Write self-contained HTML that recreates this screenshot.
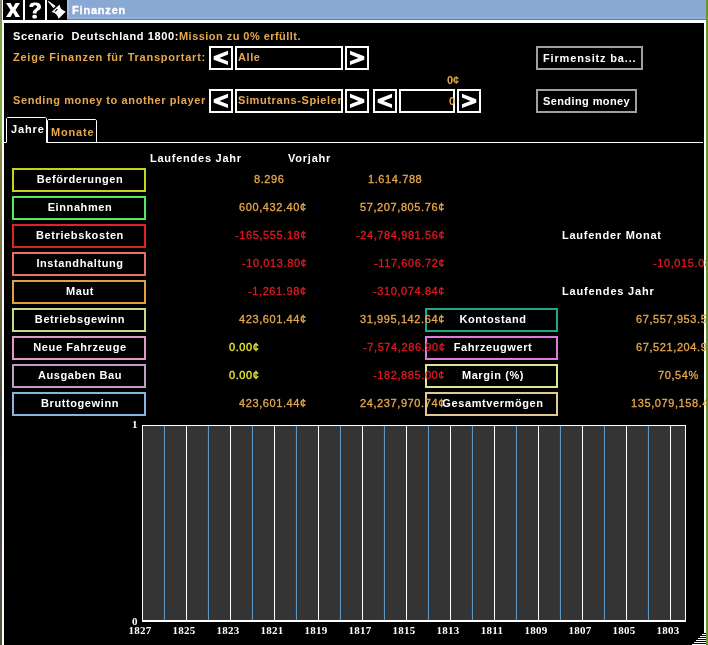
<!DOCTYPE html>
<html><head><meta charset="utf-8"><style>
html,body{margin:0;padding:0;width:708px;height:645px;overflow:hidden;background:#000;}
.a{position:absolute;}
.t{position:absolute;white-space:pre;line-height:11px;will-change:transform;font-family:"Liberation Sans",sans-serif;}
</style></head><body>
<div class="a" style="left:0px;top:0px;width:2px;height:645px;background:linear-gradient(#8a8670 0,#8a8a68 18px,#78a840 28px,#80ac40 130px,#8a8450 150px,#6e6a48 320px,#3e4a3c 420px,#5a4a50 560px,#4a5a3a 645px);"></div>
<div class="a" style="left:706px;top:0px;width:2px;height:645px;background:#66982e;"></div>
<div class="a" style="left:2px;top:0px;width:704px;height:645px;background:#ffffff;"></div>
<div class="a" style="left:3px;top:0px;width:20px;height:20px;background:#000;"></div>
<div class="a" style="left:25px;top:0px;width:20px;height:20px;background:#000;"></div>
<div class="a" style="left:47px;top:0px;width:20px;height:20px;background:#000;"></div>
<div class="a" style="left:67px;top:0px;width:639px;height:19px;background:linear-gradient(90deg,#a4bce0 0,#a4bce0 2px,#8aa8d4 2px);"></div>
<div class="a" style="left:67px;top:17px;width:639px;height:2px;background:#90b0dc;"></div>
<div class="a" style="left:67px;top:19px;width:639px;height:1px;background:#6c7c94;"></div>
<div class="a" style="left:4px;top:23px;width:700px;height:622px;background:#000;"></div>
<svg class="a" style="left:0;top:0" width="70" height="20" viewBox="0 0 70 20">
<path d="M6,3 H10.5 L13,7.5 L15.5,3 H20 L15.5,10 L20,17 H15.5 L13,12.5 L10.5,17 H6 L10.5,10 Z" fill="#fff"/>
<path d="M29.5,6 C29.5,3.5 32,2.5 35,2.5 C38.5,2.5 41,4 41,6.8 C41,9.5 38.5,10.3 37.3,11.3 C36.6,11.9 36.6,12.6 36.6,13.5 H32.8 C32.8,11.8 33,10.6 34.6,9.4 C36,8.4 37,7.9 37,6.8 C37,5.8 36.2,5.3 35,5.3 C33.8,5.3 33.2,6 33.2,7 H29.5 Z" fill="#fff"/>
<rect x="32.3" y="14.8" width="4.6" height="3.8" rx="1.5" fill="#fff"/>
<path d="M47.6,1.2 L48.6,1.0 L55.6,6.0 L53.6,8.2 Z" fill="#fff"/>
<path d="M59.6,4.6 Q60.2,10.4 65.8,11.6 L58.6,18.8 Q57.2,13.2 51.6,12 Z" fill="#fff"/>
<path d="M55,11.6 L57.4,9.2" stroke="#000" stroke-width="1.2"/>
</svg>
<div class="t " style="top:5px;color:#ffffff;font-size:11px;font-weight:bold;letter-spacing:0.8px;font-family:'Liberation Sans',sans-serif;left:72px;-webkit-text-stroke:0.3px #ffffff;">Finanzen</div>
<div class="t " style="top:31px;color:#ffffff;font-size:11px;font-weight:bold;letter-spacing:0.6px;font-family:'Liberation Sans',sans-serif;left:13px;">Scenario&nbsp; Deutschland 1800:</div>
<div class="t " style="top:31px;color:#e6a84c;font-size:11px;font-weight:bold;letter-spacing:0.46px;font-family:'Liberation Sans',sans-serif;left:179px;">Mission zu 0% erfüllt.</div>
<div class="t " style="top:52px;color:#e6a84c;font-size:11px;font-weight:bold;letter-spacing:0.76px;font-family:'Liberation Sans',sans-serif;left:13px;">Zeige Finanzen für Transportart:</div>
<div class="t " style="top:95px;color:#e6a84c;font-size:11px;font-weight:bold;letter-spacing:0.6px;font-family:'Liberation Sans',sans-serif;left:13px;">Sending money to another player</div>
<div class="a" style="left:209px;top:46px;width:24px;height:24px;background:#000;box-shadow:inset 0 0 0 2px #fff;"></div>
<svg class="a" style="left:209px;top:46px" width="24" height="24" viewBox="0 0 24 24"><path d="M19,4.8 L4.7,10.2 L4.7,13.8 L19,19 L19,15.2 L10.5,12 L19,8.6 Z" fill="#fff"/></svg>
<div class="a" style="left:235px;top:46px;width:108px;height:24px;background:#000;box-shadow:inset 0 0 0 2px #fff;"></div>
<div class="t " style="top:52px;color:#e6a84c;font-size:11px;font-weight:bold;letter-spacing:0.6px;font-family:'Liberation Sans',sans-serif;left:238px;">Alle</div>
<div class="a" style="left:345px;top:46px;width:24px;height:24px;background:#000;box-shadow:inset 0 0 0 2px #fff;"></div>
<svg class="a" style="left:345px;top:46px" width="24" height="24" viewBox="0 0 24 24"><path d="M5,4.8 L19.3,10.2 L19.3,13.8 L5,19 L5,15.2 L13.5,12 L5,8.6 Z" fill="#fff"/></svg>
<div class="a" style="left:209px;top:89px;width:24px;height:24px;background:#000;box-shadow:inset 0 0 0 2px #fff;"></div>
<svg class="a" style="left:209px;top:89px" width="24" height="24" viewBox="0 0 24 24"><path d="M19,4.8 L4.7,10.2 L4.7,13.8 L19,19 L19,15.2 L10.5,12 L19,8.6 Z" fill="#fff"/></svg>
<div class="a" style="left:235px;top:89px;width:108px;height:24px;background:#000;box-shadow:inset 0 0 0 2px #fff;"></div>
<div class="a" style="left:237px;top:91px;width:104px;height:20px;overflow:hidden">
<div class="t " style="top:4px;color:#e6a84c;font-size:11px;font-weight:bold;letter-spacing:0.6px;font-family:'Liberation Sans',sans-serif;left:1px;">Simutrans-Spieler</div>
</div>
<div class="a" style="left:345px;top:89px;width:24px;height:24px;background:#000;box-shadow:inset 0 0 0 2px #fff;"></div>
<svg class="a" style="left:345px;top:89px" width="24" height="24" viewBox="0 0 24 24"><path d="M5,4.8 L19.3,10.2 L19.3,13.8 L5,19 L5,15.2 L13.5,12 L5,8.6 Z" fill="#fff"/></svg>
<div class="a" style="left:373px;top:89px;width:24px;height:24px;background:#000;box-shadow:inset 0 0 0 2px #fff;"></div>
<svg class="a" style="left:373px;top:89px" width="24" height="24" viewBox="0 0 24 24"><path d="M19,4.8 L4.7,10.2 L4.7,13.8 L19,19 L19,15.2 L10.5,12 L19,8.6 Z" fill="#fff"/></svg>
<div class="a" style="left:399px;top:89px;width:56px;height:24px;background:#000;box-shadow:inset 0 0 0 2px #fff;"></div>
<div class="a" style="left:457px;top:89px;width:24px;height:24px;background:#000;box-shadow:inset 0 0 0 2px #fff;"></div>
<svg class="a" style="left:457px;top:89px" width="24" height="24" viewBox="0 0 24 24"><path d="M5,4.8 L19.3,10.2 L19.3,13.8 L5,19 L5,15.2 L13.5,12 L5,8.6 Z" fill="#fff"/></svg>
<div class="t " style="top:96px;color:#e6a84c;font-size:11px;font-weight:bold;letter-spacing:0px;font-family:'Liberation Sans',sans-serif;right:253px;text-align:right;">0</div>
<div class="t " style="top:75px;color:#e6a84c;font-size:11px;font-weight:bold;letter-spacing:0px;font-family:'Liberation Sans',sans-serif;right:249px;text-align:right;">0¢</div>
<div class="a" style="left:536px;top:46px;width:107px;height:24px;background:#000;box-shadow:inset 0 0 0 2px #a0a0a0;"></div>
<div class="t " style="top:53px;color:#ffffff;font-size:11px;font-weight:bold;letter-spacing:0.84px;font-family:'Liberation Sans',sans-serif;left:543px;">Firmensitz ba...</div>
<div class="a" style="left:536px;top:89px;width:101px;height:24px;background:#000;box-shadow:inset 0 0 0 2px #a0a0a0;"></div>
<div class="t " style="top:96px;color:#ffffff;font-size:11px;font-weight:bold;letter-spacing:0.4px;font-family:'Liberation Sans',sans-serif;left:543px;">Sending money</div>
<svg class="a" style="left:0;top:110px" width="708" height="40" viewBox="0 0 708 40">
<path d="M4,32.5 H6.5 V8.5 L7.5,7.5 H45.5 L46.5,8.5 V32.5 H703" stroke="#fff" stroke-width="1" fill="none"/>
<path d="M47.5,32.5 V10.5 L48.5,9.5 H95.5 L96.5,10.5 V32.5" stroke="#fff" stroke-width="1" fill="none"/>
</svg>
<div class="t " style="top:124px;color:#ffffff;font-size:11px;font-weight:bold;letter-spacing:0.85px;font-family:'Liberation Sans',sans-serif;left:11px;">Jahre</div>
<div class="t " style="top:127px;color:#e6a84c;font-size:11px;font-weight:bold;letter-spacing:0.8px;font-family:'Liberation Sans',sans-serif;left:51px;">Monate</div>
<div class="t " style="top:153px;color:#ffffff;font-size:11px;font-weight:bold;letter-spacing:0.75px;font-family:'Liberation Sans',sans-serif;left:150px;">Laufendes Jahr</div>
<div class="t " style="top:153px;color:#ffffff;font-size:11px;font-weight:bold;letter-spacing:0.77px;font-family:'Liberation Sans',sans-serif;left:288px;">Vorjahr</div>
<div class="a" style="left:12px;top:168px;width:134px;height:24px;box-shadow:inset 0 0 0 2px #c3d21e;"></div>
<div class="t " style="top:174px;color:#ffffff;font-size:11px;font-weight:bold;letter-spacing:0.6px;font-family:'Liberation Sans',sans-serif;left:-20.5px;width:200px;text-align:center;">Beförderungen</div>
<div class="a" style="left:12px;top:196px;width:134px;height:24px;box-shadow:inset 0 0 0 2px #50eb5a;"></div>
<div class="t " style="top:202px;color:#ffffff;font-size:11px;font-weight:bold;letter-spacing:0.6px;font-family:'Liberation Sans',sans-serif;left:-20.5px;width:200px;text-align:center;">Einnahmen</div>
<div class="a" style="left:12px;top:224px;width:134px;height:24px;box-shadow:inset 0 0 0 2px #dc2420;"></div>
<div class="t " style="top:230px;color:#ffffff;font-size:11px;font-weight:bold;letter-spacing:0.6px;font-family:'Liberation Sans',sans-serif;left:-20.5px;width:200px;text-align:center;">Betriebskosten</div>
<div class="a" style="left:12px;top:252px;width:134px;height:24px;box-shadow:inset 0 0 0 2px #e4706c;"></div>
<div class="t " style="top:258px;color:#ffffff;font-size:11px;font-weight:bold;letter-spacing:0.6px;font-family:'Liberation Sans',sans-serif;left:-20.5px;width:200px;text-align:center;">Instandhaltung</div>
<div class="a" style="left:12px;top:280px;width:134px;height:24px;box-shadow:inset 0 0 0 2px #e0a03c;"></div>
<div class="t " style="top:286px;color:#ffffff;font-size:11px;font-weight:bold;letter-spacing:0.6px;font-family:'Liberation Sans',sans-serif;left:-20.5px;width:200px;text-align:center;">Maut</div>
<div class="a" style="left:12px;top:308px;width:134px;height:24px;box-shadow:inset 0 0 0 2px #c4dc88;"></div>
<div class="t " style="top:314px;color:#ffffff;font-size:11px;font-weight:bold;letter-spacing:0.6px;font-family:'Liberation Sans',sans-serif;left:-20.5px;width:200px;text-align:center;">Betriebsgewinn</div>
<div class="a" style="left:12px;top:336px;width:134px;height:24px;box-shadow:inset 0 0 0 2px #e098c4;"></div>
<div class="t " style="top:342px;color:#ffffff;font-size:11px;font-weight:bold;letter-spacing:0.6px;font-family:'Liberation Sans',sans-serif;left:-20.5px;width:200px;text-align:center;">Neue Fahrzeuge</div>
<div class="a" style="left:12px;top:364px;width:134px;height:24px;box-shadow:inset 0 0 0 2px #c09cc0;"></div>
<div class="t " style="top:370px;color:#ffffff;font-size:11px;font-weight:bold;letter-spacing:0.6px;font-family:'Liberation Sans',sans-serif;left:-20.5px;width:200px;text-align:center;">Ausgaben Bau</div>
<div class="a" style="left:12px;top:392px;width:134px;height:24px;box-shadow:inset 0 0 0 2px #88b4dc;"></div>
<div class="t " style="top:398px;color:#ffffff;font-size:11px;font-weight:bold;letter-spacing:0.6px;font-family:'Liberation Sans',sans-serif;left:-20.5px;width:200px;text-align:center;">Bruttogewinn</div>
<div class="a" style="left:425px;top:308px;width:133px;height:24px;box-shadow:inset 0 0 0 2px #20a888;"></div>
<div class="a" style="left:425px;top:336px;width:133px;height:24px;box-shadow:inset 0 0 0 2px #dc7cdc;"></div>
<div class="a" style="left:425px;top:364px;width:133px;height:24px;box-shadow:inset 0 0 0 2px #dce68c;"></div>
<div class="a" style="left:425px;top:392px;width:133px;height:24px;box-shadow:inset 0 0 0 2px #e0c890;"></div>
<div class="t " style="top:174px;color:#e6a84c;font-size:11px;font-weight:normal;letter-spacing:0.6px;font-family:'Liberation Sans',sans-serif;right:423px;text-align:right;-webkit-text-stroke:0.3px #e6a84c;">8.296</div>
<div class="t " style="top:202px;color:#e6a84c;font-size:11px;font-weight:normal;letter-spacing:0.6px;font-family:'Liberation Sans',sans-serif;right:401px;text-align:right;-webkit-text-stroke:0.3px #e6a84c;">600,432.40¢</div>
<div class="t " style="top:230px;color:#e21a22;font-size:11px;font-weight:normal;letter-spacing:0.6px;font-family:'Liberation Sans',sans-serif;right:401px;text-align:right;-webkit-text-stroke:0.3px #e21a22;">-165,555.18¢</div>
<div class="t " style="top:258px;color:#e21a22;font-size:11px;font-weight:normal;letter-spacing:0.6px;font-family:'Liberation Sans',sans-serif;right:401px;text-align:right;-webkit-text-stroke:0.3px #e21a22;">-10,013.80¢</div>
<div class="t " style="top:286px;color:#e21a22;font-size:11px;font-weight:normal;letter-spacing:0.6px;font-family:'Liberation Sans',sans-serif;right:401px;text-align:right;-webkit-text-stroke:0.3px #e21a22;">-1,261.98¢</div>
<div class="t " style="top:314px;color:#e6a84c;font-size:11px;font-weight:normal;letter-spacing:0.6px;font-family:'Liberation Sans',sans-serif;right:401px;text-align:right;-webkit-text-stroke:0.3px #e6a84c;">423,601.44¢</div>
<div class="t " style="top:342px;color:#ebeb34;font-size:11px;font-weight:normal;letter-spacing:0.6px;font-family:'Liberation Sans',sans-serif;right:448px;text-align:right;-webkit-text-stroke:0.3px #ebeb34;">0.00¢</div>
<div class="t " style="top:370px;color:#ebeb34;font-size:11px;font-weight:normal;letter-spacing:0.6px;font-family:'Liberation Sans',sans-serif;right:448px;text-align:right;-webkit-text-stroke:0.3px #ebeb34;">0.00¢</div>
<div class="t " style="top:398px;color:#e6a84c;font-size:11px;font-weight:normal;letter-spacing:0.6px;font-family:'Liberation Sans',sans-serif;right:401px;text-align:right;-webkit-text-stroke:0.3px #e6a84c;">423,601.44¢</div>
<div class="t " style="top:174px;color:#e6a84c;font-size:11px;font-weight:normal;letter-spacing:0.6px;font-family:'Liberation Sans',sans-serif;right:286px;text-align:right;-webkit-text-stroke:0.3px #e6a84c;">1.614.788</div>
<div class="t " style="top:202px;color:#e6a84c;font-size:11px;font-weight:normal;letter-spacing:0.6px;font-family:'Liberation Sans',sans-serif;right:263px;text-align:right;-webkit-text-stroke:0.3px #e6a84c;">57,207,805.76¢</div>
<div class="t " style="top:230px;color:#e21a22;font-size:11px;font-weight:normal;letter-spacing:0.6px;font-family:'Liberation Sans',sans-serif;right:263px;text-align:right;-webkit-text-stroke:0.3px #e21a22;">-24,784,981.56¢</div>
<div class="t " style="top:258px;color:#e21a22;font-size:11px;font-weight:normal;letter-spacing:0.6px;font-family:'Liberation Sans',sans-serif;right:263px;text-align:right;-webkit-text-stroke:0.3px #e21a22;">-117,606.72¢</div>
<div class="t " style="top:286px;color:#e21a22;font-size:11px;font-weight:normal;letter-spacing:0.6px;font-family:'Liberation Sans',sans-serif;right:263px;text-align:right;-webkit-text-stroke:0.3px #e21a22;">-310,074.84¢</div>
<div class="t " style="top:314px;color:#e6a84c;font-size:11px;font-weight:normal;letter-spacing:0.6px;font-family:'Liberation Sans',sans-serif;right:263px;text-align:right;-webkit-text-stroke:0.3px #e6a84c;">31,995,142.64¢</div>
<div class="t " style="top:342px;color:#e21a22;font-size:11px;font-weight:normal;letter-spacing:0.6px;font-family:'Liberation Sans',sans-serif;right:263px;text-align:right;-webkit-text-stroke:0.3px #e21a22;">-7,574,286.90¢</div>
<div class="t " style="top:370px;color:#e21a22;font-size:11px;font-weight:normal;letter-spacing:0.6px;font-family:'Liberation Sans',sans-serif;right:263px;text-align:right;-webkit-text-stroke:0.3px #e21a22;">-182,885.00¢</div>
<div class="t " style="top:398px;color:#e6a84c;font-size:11px;font-weight:normal;letter-spacing:0.6px;font-family:'Liberation Sans',sans-serif;right:263px;text-align:right;-webkit-text-stroke:0.3px #e6a84c;">24,237,970.74¢</div>
<div class="t " style="top:314px;color:#ffffff;font-size:11px;font-weight:bold;letter-spacing:0.6px;font-family:'Liberation Sans',sans-serif;left:392.5px;width:200px;text-align:center;">Kontostand</div>
<div class="t " style="top:342px;color:#ffffff;font-size:11px;font-weight:bold;letter-spacing:0.6px;font-family:'Liberation Sans',sans-serif;left:392.5px;width:200px;text-align:center;">Fahrzeugwert</div>
<div class="t " style="top:370px;color:#ffffff;font-size:11px;font-weight:bold;letter-spacing:0.6px;font-family:'Liberation Sans',sans-serif;left:392.5px;width:200px;text-align:center;">Margin (%)</div>
<div class="t " style="top:398px;color:#ffffff;font-size:11px;font-weight:bold;letter-spacing:0.6px;font-family:'Liberation Sans',sans-serif;left:392.5px;width:200px;text-align:center;">Gesamtvermögen</div>
<div class="t " style="top:230px;color:#ffffff;font-size:11px;font-weight:bold;letter-spacing:0.74px;font-family:'Liberation Sans',sans-serif;left:562px;">Laufender Monat</div>
<div class="t " style="top:286px;color:#ffffff;font-size:11px;font-weight:bold;letter-spacing:0.8px;font-family:'Liberation Sans',sans-serif;left:562px;">Laufendes Jahr</div>
<div class="a" style="left:560px;top:240px;width:146px;height:180px;overflow:hidden">
<div class="t" style="left:93px;top:18px;color:#e21a22;font-size:11px;font-weight:normal;letter-spacing:0.6px;-webkit-text-stroke:0.3px #e21a22;">-10,015.08¢</div>
<div class="t" style="left:76px;top:74px;color:#e6a84c;font-size:11px;font-weight:normal;letter-spacing:0.6px;-webkit-text-stroke:0.3px #e6a84c;">67,557,953.56¢</div>
<div class="t" style="left:76px;top:102px;color:#e6a84c;font-size:11px;font-weight:normal;letter-spacing:0.6px;-webkit-text-stroke:0.3px #e6a84c;">67,521,204.90¢</div>
<div class="t" style="left:98px;top:130px;color:#e6a84c;font-size:11px;font-weight:normal;letter-spacing:0.6px;-webkit-text-stroke:0.3px #e6a84c;">70,54%</div>
<div class="t" style="left:71px;top:158px;color:#e6a84c;font-size:11px;font-weight:normal;letter-spacing:0.6px;-webkit-text-stroke:0.3px #e6a84c;">135,079,158.46¢</div>
</div>
<div class="a" style="left:142px;top:425px;width:544px;height:197px;background:#343434;"></div>
<div class="a" style="left:164px;top:426px;width:1px;height:194px;background:#5e98c4;box-shadow:-1px 0 #28404e,1px 0 #1c3850"></div>
<div class="a" style="left:186px;top:426px;width:1px;height:194px;background:#ffffff"></div>
<div class="a" style="left:208px;top:426px;width:1px;height:194px;background:#5e98c4;box-shadow:-1px 0 #28404e,1px 0 #1c3850"></div>
<div class="a" style="left:230px;top:426px;width:1px;height:194px;background:#ffffff"></div>
<div class="a" style="left:252px;top:426px;width:1px;height:194px;background:#5e98c4;box-shadow:-1px 0 #28404e,1px 0 #1c3850"></div>
<div class="a" style="left:274px;top:426px;width:1px;height:194px;background:#ffffff"></div>
<div class="a" style="left:296px;top:426px;width:1px;height:194px;background:#5e98c4;box-shadow:-1px 0 #28404e,1px 0 #1c3850"></div>
<div class="a" style="left:318px;top:426px;width:1px;height:194px;background:#ffffff"></div>
<div class="a" style="left:340px;top:426px;width:1px;height:194px;background:#5e98c4;box-shadow:-1px 0 #28404e,1px 0 #1c3850"></div>
<div class="a" style="left:362px;top:426px;width:1px;height:194px;background:#ffffff"></div>
<div class="a" style="left:384px;top:426px;width:1px;height:194px;background:#5e98c4;box-shadow:-1px 0 #28404e,1px 0 #1c3850"></div>
<div class="a" style="left:406px;top:426px;width:1px;height:194px;background:#ffffff"></div>
<div class="a" style="left:428px;top:426px;width:1px;height:194px;background:#5e98c4;box-shadow:-1px 0 #28404e,1px 0 #1c3850"></div>
<div class="a" style="left:450px;top:426px;width:1px;height:194px;background:#ffffff"></div>
<div class="a" style="left:472px;top:426px;width:1px;height:194px;background:#5e98c4;box-shadow:-1px 0 #28404e,1px 0 #1c3850"></div>
<div class="a" style="left:494px;top:426px;width:1px;height:194px;background:#ffffff"></div>
<div class="a" style="left:516px;top:426px;width:1px;height:194px;background:#5e98c4;box-shadow:-1px 0 #28404e,1px 0 #1c3850"></div>
<div class="a" style="left:538px;top:426px;width:1px;height:194px;background:#ffffff"></div>
<div class="a" style="left:560px;top:426px;width:1px;height:194px;background:#5e98c4;box-shadow:-1px 0 #28404e,1px 0 #1c3850"></div>
<div class="a" style="left:582px;top:426px;width:1px;height:194px;background:#ffffff"></div>
<div class="a" style="left:604px;top:426px;width:1px;height:194px;background:#5e98c4;box-shadow:-1px 0 #28404e,1px 0 #1c3850"></div>
<div class="a" style="left:626px;top:426px;width:1px;height:194px;background:#ffffff"></div>
<div class="a" style="left:648px;top:426px;width:1px;height:194px;background:#5e98c4;box-shadow:-1px 0 #28404e,1px 0 #1c3850"></div>
<div class="a" style="left:670px;top:426px;width:1px;height:194px;background:#ffffff"></div>
<div class="a" style="left:142px;top:425px;width:544px;height:1px;background:#fff;"></div>
<div class="a" style="left:142px;top:425px;width:1px;height:197px;background:#fff;"></div>
<div class="a" style="left:685px;top:425px;width:1px;height:197px;background:#fff;"></div>
<div class="a" style="left:142px;top:620px;width:544px;height:2px;background:#fff;"></div>
<div class="t " style="top:419px;color:#ffffff;font-size:11px;font-weight:bold;letter-spacing:0.3px;font-family:'Liberation Serif',sans-serif;left:132px;">1</div>
<div class="t " style="top:616px;color:#ffffff;font-size:11px;font-weight:bold;letter-spacing:0.3px;font-family:'Liberation Serif',sans-serif;left:132px;">0</div>
<div class="t " style="top:625px;color:#ffffff;font-size:11px;font-weight:bold;letter-spacing:0.3px;font-family:'Liberation Serif',sans-serif;left:39.5px;width:200px;text-align:center;">1827</div>
<div class="t " style="top:625px;color:#ffffff;font-size:11px;font-weight:bold;letter-spacing:0.3px;font-family:'Liberation Serif',sans-serif;left:83.5px;width:200px;text-align:center;">1825</div>
<div class="t " style="top:625px;color:#ffffff;font-size:11px;font-weight:bold;letter-spacing:0.3px;font-family:'Liberation Serif',sans-serif;left:127.5px;width:200px;text-align:center;">1823</div>
<div class="t " style="top:625px;color:#ffffff;font-size:11px;font-weight:bold;letter-spacing:0.3px;font-family:'Liberation Serif',sans-serif;left:171.5px;width:200px;text-align:center;">1821</div>
<div class="t " style="top:625px;color:#ffffff;font-size:11px;font-weight:bold;letter-spacing:0.3px;font-family:'Liberation Serif',sans-serif;left:215.5px;width:200px;text-align:center;">1819</div>
<div class="t " style="top:625px;color:#ffffff;font-size:11px;font-weight:bold;letter-spacing:0.3px;font-family:'Liberation Serif',sans-serif;left:259.5px;width:200px;text-align:center;">1817</div>
<div class="t " style="top:625px;color:#ffffff;font-size:11px;font-weight:bold;letter-spacing:0.3px;font-family:'Liberation Serif',sans-serif;left:303.5px;width:200px;text-align:center;">1815</div>
<div class="t " style="top:625px;color:#ffffff;font-size:11px;font-weight:bold;letter-spacing:0.3px;font-family:'Liberation Serif',sans-serif;left:347.5px;width:200px;text-align:center;">1813</div>
<div class="t " style="top:625px;color:#ffffff;font-size:11px;font-weight:bold;letter-spacing:0.3px;font-family:'Liberation Serif',sans-serif;left:391.5px;width:200px;text-align:center;">1811</div>
<div class="t " style="top:625px;color:#ffffff;font-size:11px;font-weight:bold;letter-spacing:0.3px;font-family:'Liberation Serif',sans-serif;left:435.5px;width:200px;text-align:center;">1809</div>
<div class="t " style="top:625px;color:#ffffff;font-size:11px;font-weight:bold;letter-spacing:0.3px;font-family:'Liberation Serif',sans-serif;left:479.5px;width:200px;text-align:center;">1807</div>
<div class="t " style="top:625px;color:#ffffff;font-size:11px;font-weight:bold;letter-spacing:0.3px;font-family:'Liberation Serif',sans-serif;left:523.5px;width:200px;text-align:center;">1805</div>
<div class="t " style="top:625px;color:#ffffff;font-size:11px;font-weight:bold;letter-spacing:0.3px;font-family:'Liberation Serif',sans-serif;left:567.5px;width:200px;text-align:center;">1803</div>
<div class="a" style="left:704px;top:633px;width:2px;height:12px;background:#000;"></div>
<div class="a" style="left:702px;top:634px;width:4px;height:1px;background:#fff;"></div>
<div class="a" style="left:700px;top:636px;width:6px;height:1px;background:#fff;"></div>
<div class="a" style="left:698px;top:638px;width:8px;height:1px;background:#fff;"></div>
<div class="a" style="left:696px;top:640px;width:10px;height:1px;background:#fff;"></div>
<div class="a" style="left:694px;top:642px;width:12px;height:1px;background:#fff;"></div>
<div class="a" style="left:692px;top:644px;width:14px;height:1px;background:#fff;"></div>
</body></html>
